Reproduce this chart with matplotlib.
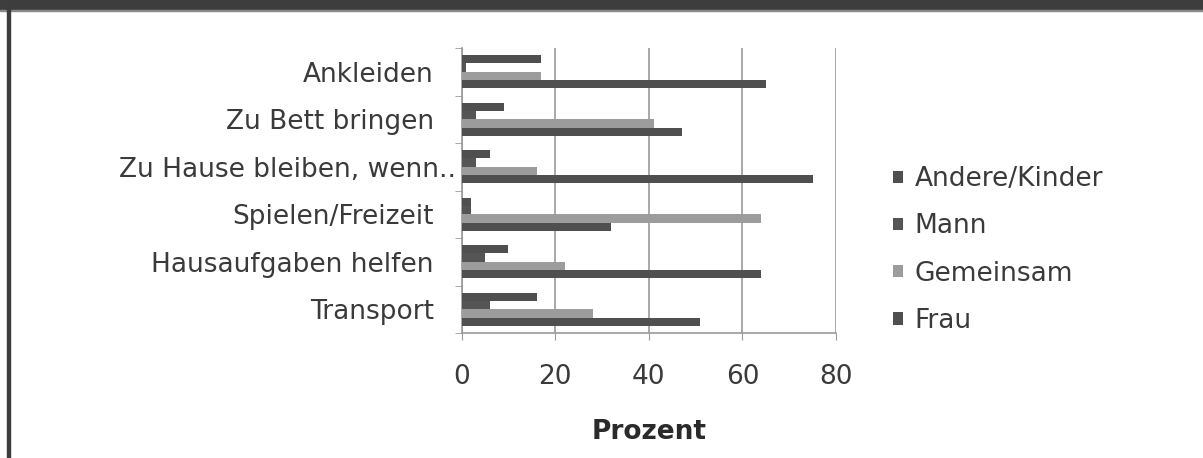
import numpy as np
import matplotlib.pyplot as plt
import matplotlib.transforms as mtrans
from matplotlib.patches import Rectangle

categories = ['Ankleiden', 'Zu Bett bringen', 'Zu Hause bleiben, wenn..',
              'Spielen/Freizeit', 'Hausaufgaben helfen', 'Transport']
andere = [17, 9, 6, 2, 10, 16]
mann = [1, 3, 3, 2, 5, 6]
gemeinsam = [17, 41, 16, 64, 22, 28]
frau = [65, 47, 75, 32, 64, 51]
series_names = ['Andere/Kinder', 'Mann', 'Gemeinsam', 'Frau']
xticks = [0, 20, 40, 60, 80]

colors = ['#4f4f4f', '#555555', '#9c9c9c', '#4f4f4f']
txt = '#3a3a3a'
fs = 19

plt.rcParams['font.family'] = ['DejaVu Sans']

W, H = 1203, 458
fig = plt.figure(figsize=(W / 100, H / 100), dpi=100)
fig.patch.set_facecolor('white')
# dark frame band at top and thin line at left
fig.patches.append(Rectangle((0, 1 - 10 / H), 1, 10 / H, transform=fig.transFigure,
                             color='#3d3d3d', zorder=0))
fig.patches.append(Rectangle((0, 1 - 11 / H), 1, 1.2 / H, transform=fig.transFigure,
                             color='#8a8a8a', zorder=0))
fig.patches.append(Rectangle((7 / W, 0), 2.5 / W, 1, transform=fig.transFigure,
                             color='#3d3d3d', zorder=0))

ax = fig.add_axes([461.7 / W, 1 - 333 / H, (836 - 461.7) / W, (333 - 48) / H])

n = len(categories)
bar_h = 0.175
pos = np.arange(n)[::-1].astype(float)  # top category highest
all_series = [andere, mann, gemeinsam, frau]
for i, (vals, c, name) in enumerate(zip(all_series, colors, series_names)):
    offs = (1.5 - i) * bar_h
    ax.barh(pos + offs, vals, height=bar_h, color=c, label=name, zorder=3)

ax.set_xlim(0, 80)
ax.set_ylim(-0.5, n - 0.5)
ax.set_xticks(xticks)
ax.set_xticklabels([str(t) for t in xticks], fontsize=fs, color=txt)
ax.set_yticks(pos)
ax.set_yticklabels(categories, fontsize=fs, color=txt)
ax.tick_params(axis='y', which='major', length=0, pad=20)
ax.set_yticks(np.arange(-0.5, n, 1.0), minor=True)
ax.tick_params(axis='y', which='minor', length=5, color='#999999', direction='out')
ax.tick_params(axis='x', length=5, color='#999999', direction='out', pad=17)

# the truncated label sits further right in the original
for lab in ax.get_yticklabels():
    if lab.get_text().endswith('..'):
        lab.set_transform(lab.get_transform() +
                          mtrans.ScaledTranslation(22 / 100, 0, fig.dpi_scale_trans))

ax.grid(axis='x', color='#9a9a9a', linewidth=1.2, zorder=0)
for s in ['top', 'right']:
    ax.spines[s].set_visible(False)
for s in ['left', 'bottom']:
    ax.spines[s].set_color('#999999')
    ax.spines[s].set_linewidth(1.2)

ax.set_xlabel('Prozent', fontsize=fs, fontweight='bold', color='#2a2a2a', labelpad=21)

leg = fig.legend(loc='center left', bbox_to_anchor=(893 / W, 1 - 250 / H), frameon=False,
                 fontsize=fs, handlelength=0.36, handleheight=0.36, handletextpad=0.45,
                 labelspacing=0.8, borderpad=0, borderaxespad=0)
for t in leg.get_texts():
    t.set_color(txt)

fig.savefig('out.png', dpi=100, facecolor='white')
